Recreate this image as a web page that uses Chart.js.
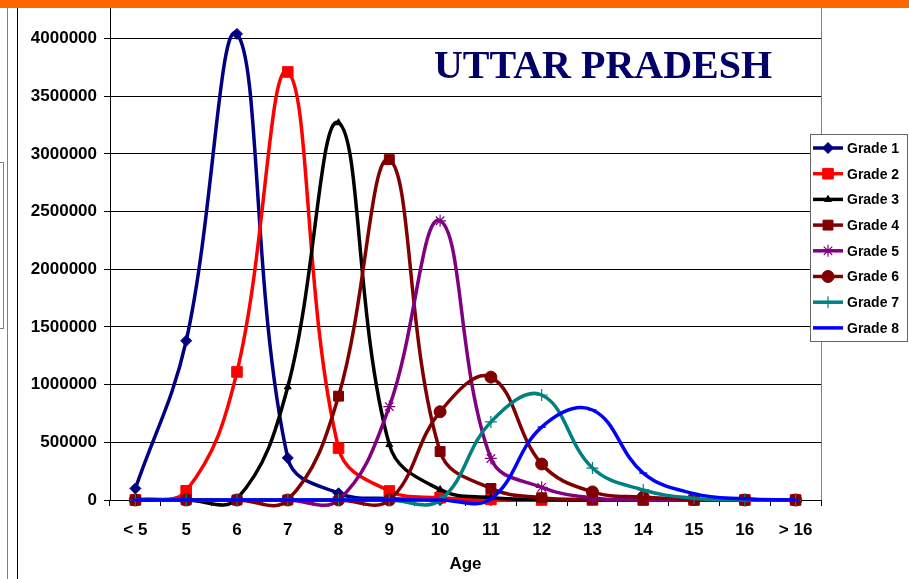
<!DOCTYPE html>
<html><head><meta charset="utf-8">
<script src="https://cdn.jsdelivr.net/npm/chart.js@4.4.1/dist/chart.umd.min.js"></script>
<style>
html,body{margin:0;padding:0;background:#fff;}
#wrap{position:relative;width:909px;height:579px;overflow:hidden;background:#fff;}
#bar{position:absolute;left:0;top:0;width:909px;height:8px;background:#FF6600;}
.vl{position:absolute;top:8px;bottom:0;width:1px;}
canvas{position:absolute;left:0;top:0;}
</style></head><body>
<div id="wrap">
<canvas id="c" width="909" height="579"></canvas>
<div id="bar"></div>
<div class="vl" style="left:7px;background:#808080"></div>
<div class="vl" style="left:17px;background:#000"></div>
<div style="position:absolute;left:-1px;top:162px;width:3px;height:165px;border:1px solid #808080;"></div>
</div>
<script>
const categories = ['< 5','5','6','7','8','9','10','11','12','13','14','15','16','> 16'];
const seriesNames = ['Grade 1','Grade 2','Grade 3','Grade 4','Grade 5','Grade 6','Grade 7','Grade 8'];
const grade1 = [100000,1380000,4040000,365000,58000,12000,0,0,0,0,0,0,0,0];
const grade2 = [0,80000,1110000,3710000,450000,78000,20000,5000,0,0,0,0,0,0];
const grade3 = [0,0,10000,980000,3270000,480000,90000,20000,5000,0,0,0,0,0];
const grade4 = [0,0,0,0,900000,2950000,420000,100000,20000,5000,0,0,0,0];
const grade5 = [0,0,0,0,0,810000,2420000,360000,110000,18000,0,0,0,0];
const grade6 = [0,0,0,0,0,0,765000,1065000,312000,70000,25000,5000,0,0];
const grade7 = [0,0,0,0,0,0,0,677000,910000,277000,87000,15000,0,0];
const grade8 = [0,0,0,0,0,0,0,10000,632000,780000,233000,55000,10000,0];
const yTickValues = [0,500000,1000000,1500000,2000000,2500000,3000000,3500000,4000000];
const chartTitle = 'UTTAR PRADESH';
const xAxisTitle = 'Age';

const seriesValues = [grade1,grade2,grade3,grade4,grade5,grade6,grade7,grade8];
const styles = [
  {color:'#000080', point:'rectRot', r:5.5, bw:1},
  {color:'#FF0000', point:'rect', r:7.5, bw:1},
  {color:'#000000', point:'triangle', r:4, bw:1},
  {color:'#800000', point:'rect', r:7, bw:1},
  {color:'#800080', point:'star', r:6, bw:1.2},
  {color:'#800000', point:'circle', r:6, bw:1},
  {color:'#008080', point:'cross', r:6, bw:1.2},
  {color:'#0000FF', point:'line', r:4, bw:1.5}
];

const datasets = seriesValues.map((vals,i)=>({
  label: seriesNames[i],
  data: vals,
  borderColor: styles[i].color,
  backgroundColor: styles[i].color,
  pointBackgroundColor: styles[i].color,
  pointBorderColor: styles[i].color,
  pointStyle: styles[i].point,
  pointRadius: styles[i].r,
  pointBorderWidth: styles[i].bw,
  borderWidth: 3.5,
  tension: 0.4,
  cubicInterpolationMode: 'default',
  capBezierPoints: false,
  clip: false,
  order: 7 - i
}));

const decor = {
  id: 'decor',
  beforeDatasetsDraw(chart){
    const {ctx, chartArea} = chart;
    ctx.save();
    ctx.strokeStyle = '#808080';
    ctx.lineWidth = 1;
    const xr = Math.round(chartArea.right) + 0.5;
    ctx.beginPath();
    ctx.moveTo(xr, 0);
    ctx.lineTo(xr, chartArea.bottom);
    ctx.stroke();
    ctx.fillStyle = '#000066';
    ctx.font = 'bold 40px "Liberation Serif", "Times New Roman", serif';
    ctx.textAlign = 'center';
    ctx.textBaseline = 'middle';
    ctx.fillText(chartTitle, 603, 68);
    ctx.restore();
  },
  afterDraw(chart){
    const {ctx} = chart;
    ctx.save();
    const bx = 810.5, by = 134.5, bw = 97, bh = 207;
    ctx.fillStyle = '#fff';
    ctx.fillRect(bx, by, bw, bh);
    ctx.strokeStyle = '#666';
    ctx.lineWidth = 1;
    ctx.strokeRect(bx, by, bw, bh);
    chart.data.datasets.forEach((ds,i)=>{
      const y = 148 + i*25.7;
      ctx.strokeStyle = ds.borderColor;
      ctx.lineWidth = 3.5;
      ctx.beginPath();
      ctx.moveTo(813, y);
      ctx.lineTo(843, y);
      ctx.stroke();
      if (ds.pointStyle !== 'line') {
        ctx.fillStyle = ds.pointBackgroundColor;
        ctx.strokeStyle = ds.pointBorderColor;
        ctx.lineWidth = ds.pointBorderWidth;
        Chart.helpers.drawPoint(ctx, {pointStyle: ds.pointStyle, rotation: 0, radius: ds.pointRadius, borderWidth: ds.pointBorderWidth}, 828, y);
      }
      ctx.fillStyle = '#000';
      ctx.font = 'bold 14px "Liberation Sans", Arial, sans-serif';
      ctx.textAlign = 'left';
      ctx.textBaseline = 'middle';
      ctx.fillText(ds.label, 847, y + 1);
    });
    ctx.restore();
  }
};

new Chart(document.getElementById('c'), {
  type: 'line',
  data: { labels: categories, datasets },
  options: {
    responsive: false,
    animation: false,
    layout: { padding: { top: 8, right: 88, left: 0, bottom: 0 } },
    plugins: { legend: { display: false }, title: { display: false }, tooltip: { enabled: false } },
    font: { family: '"Liberation Sans", Arial, sans-serif' },
    scales: {
      x: {
        type: 'category',
        offset: true,
        grid: { display: true, drawOnChartArea: false, drawTicks: true, tickLength: 6, color: '#000', offset: true },
        border: { display: true, color: '#000', width: 1 },
        ticks: { color: '#000', padding: 14, maxRotation: 0, autoSkip: false,
                 font: { family: '"Liberation Sans", Arial, sans-serif', size: 17, weight: 'bold' } },
        title: { display: true, text: xAxisTitle, color: '#000', padding: { top: 0, bottom: 4 },
                 font: { family: '"Liberation Sans", Arial, sans-serif', size: 17, weight: 'bold' } },
        afterFit(axis){ axis.height = 79; axis.paddingLeft = 0; axis.paddingRight = 0; axis.paddingTop = 0; axis.paddingBottom = 0; }
      },
      y: {
        min: 0,
        max: 4260000,
        grid: { color: '#000', lineWidth: 1, tickLength: 6, drawTicks: true },
        border: { display: true, color: '#000', width: 1 },
        ticks: { stepSize: 500000, color: '#000', padding: 7,
                 font: { family: '"Liberation Sans", Arial, sans-serif', size: 17, weight: 'bold' },
                 callback: (v) => String(v) },
        afterBuildTicks(axis){ axis.ticks = yTickValues.map(v => ({ value: v })); },
        afterFit(axis){ axis.width = 110; axis.paddingTop = 0; axis.paddingBottom = 0; axis.paddingLeft = 0; axis.paddingRight = 0; }
      }
    }
  },
  plugins: [decor]
});
</script>
</body></html>
